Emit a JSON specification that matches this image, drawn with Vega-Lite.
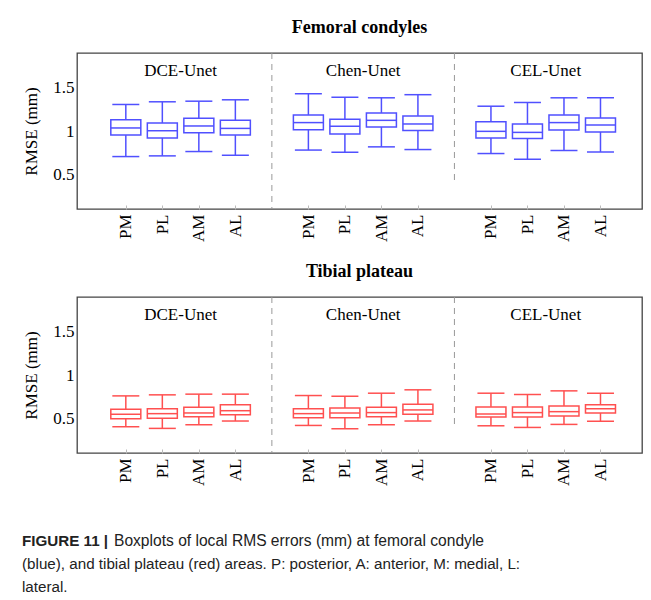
{
  "$schema": "https://vega.github.io/schema/vega-lite/v6.json",
  "background": "white",
  "padding": {"left": 22, "top": 17, "right": 5, "bottom": 5},
  "spacing": 18,
  "datasets": {
    "femoral": [
      {"method": "DCE-Unet", "region": "PM", "slot": 1, "min": 0.705, "q1": 0.953, "median": 1.035, "q3": 1.13, "max": 1.306},
      {"method": "DCE-Unet", "region": "PL", "slot": 2, "min": 0.713, "q1": 0.92, "median": 1.003, "q3": 1.093, "max": 1.337},
      {"method": "DCE-Unet", "region": "AM", "slot": 3, "min": 0.763, "q1": 0.98, "median": 1.058, "q3": 1.147, "max": 1.344},
      {"method": "DCE-Unet", "region": "AL", "slot": 4, "min": 0.72, "q1": 0.953, "median": 1.03, "q3": 1.123, "max": 1.36},
      {"method": "Chen-Unet", "region": "PM", "slot": 6, "min": 0.78, "q1": 1.015, "median": 1.097, "q3": 1.186, "max": 1.43},
      {"method": "Chen-Unet", "region": "PL", "slot": 7, "min": 0.756, "q1": 0.965, "median": 1.054, "q3": 1.135, "max": 1.39},
      {"method": "Chen-Unet", "region": "AM", "slot": 8, "min": 0.817, "q1": 1.047, "median": 1.123, "q3": 1.209, "max": 1.383},
      {"method": "Chen-Unet", "region": "AL", "slot": 9, "min": 0.786, "q1": 1.007, "median": 1.081, "q3": 1.174, "max": 1.419},
      {"method": "CEL-Unet", "region": "PM", "slot": 11, "min": 0.74, "q1": 0.919, "median": 0.996, "q3": 1.108, "max": 1.286},
      {"method": "CEL-Unet", "region": "PL", "slot": 12, "min": 0.674, "q1": 0.914, "median": 0.984, "q3": 1.081, "max": 1.329},
      {"method": "CEL-Unet", "region": "AM", "slot": 13, "min": 0.775, "q1": 1.012, "median": 1.097, "q3": 1.186, "max": 1.383},
      {"method": "CEL-Unet", "region": "AL", "slot": 14, "min": 0.759, "q1": 0.988, "median": 1.07, "q3": 1.151, "max": 1.383}
    ],
    "tibial": [
      {"method": "DCE-Unet", "region": "PM", "slot": 1, "min": 0.403, "q1": 0.495, "median": 0.547, "q3": 0.605, "max": 0.759},
      {"method": "DCE-Unet", "region": "PL", "slot": 2, "min": 0.384, "q1": 0.5, "median": 0.554, "q3": 0.612, "max": 0.771},
      {"method": "DCE-Unet", "region": "AM", "slot": 3, "min": 0.426, "q1": 0.519, "median": 0.562, "q3": 0.628, "max": 0.779},
      {"method": "DCE-Unet", "region": "AL", "slot": 4, "min": 0.469, "q1": 0.542, "median": 0.588, "q3": 0.658, "max": 0.779},
      {"method": "Chen-Unet", "region": "PM", "slot": 6, "min": 0.418, "q1": 0.507, "median": 0.554, "q3": 0.612, "max": 0.763},
      {"method": "Chen-Unet", "region": "PL", "slot": 7, "min": 0.379, "q1": 0.507, "median": 0.562, "q3": 0.62, "max": 0.756},
      {"method": "Chen-Unet", "region": "AM", "slot": 8, "min": 0.426, "q1": 0.519, "median": 0.566, "q3": 0.628, "max": 0.79},
      {"method": "Chen-Unet", "region": "AL", "slot": 9, "min": 0.469, "q1": 0.547, "median": 0.597, "q3": 0.663, "max": 0.829},
      {"method": "CEL-Unet", "region": "PM", "slot": 11, "min": 0.414, "q1": 0.515, "median": 0.55, "q3": 0.632, "max": 0.79},
      {"method": "CEL-Unet", "region": "PL", "slot": 12, "min": 0.395, "q1": 0.515, "median": 0.566, "q3": 0.632, "max": 0.775},
      {"method": "CEL-Unet", "region": "AM", "slot": 13, "min": 0.43, "q1": 0.527, "median": 0.577, "q3": 0.643, "max": 0.817},
      {"method": "CEL-Unet", "region": "AL", "slot": 14, "min": 0.465, "q1": 0.562, "median": 0.612, "q3": 0.658, "max": 0.79}
    ],
    "seps": [
      {"sep": 5, "top": 1.9, "bottom": 0.1},
      {"sep": 10, "top": 1.9, "bottom": 0.4}
    ],
    "methods": [
      {"method": "DCE-Unet", "center": 2.5},
      {"method": "Chen-Unet", "center": 7.5},
      {"method": "CEL-Unet", "center": 12.5}
    ],
    "captionBold": [
      {"line": 1, "text": "FIGURE 11 |"}
    ],
    "captionFirst": [
      {"line": 1, "text": "Boxplots of local RMS errors (mm) at femoral condyle"}
    ],
    "captionText": [
      {"line": 2, "text": "(blue), and tibial plateau (red) areas. P: posterior, A: anterior, M: medial, L:"},
      {"line": 3, "text": "lateral."}
    ]
  },
  "vconcat": [
    {
      "width": 565,
      "height": 156,
      "title": {"text": "Femoral condyles", "font": "Liberation Serif", "fontSize": 18, "fontWeight": "bold", "color": "black", "anchor": "middle", "offset": 16},
      "layer": [
        {
          "data": {"name": "seps"},
          "mark": {"type": "rule", "strokeDash": [6, 5], "color": "#999999", "strokeWidth": 1},
          "encoding": {
            "x": {"field": "sep", "type": "quantitative", "title": null, "scale": {"domain": [-0.2, 15], "nice": false, "zero": false},
              "axis": {"values": [1, 2, 3, 4, 6, 7, 8, 9, 11, 12, 13, 14], "labelExpr": "['PM','PL','AM','AL'][(datum.value - 1) % 5]", "labelAngle": -90, "grid": false, "domain": false, "tickSize": -4, "tickColor": "#bbbbbb", "labelPadding": 9, "labelFont": "Liberation Serif", "labelFontSize": 17, "labelColor": "black"}},
            "y": {"field": "top", "type": "quantitative", "title": "RMSE (mm)", "scale": {"domain": [0.1, 1.9], "nice": false, "zero": false},
              "axis": {"values": [0.5, 1, 1.5], "format": "~g", "titleFont": "Liberation Serif", "titleFontSize": 17, "titleFontWeight": "normal", "titleColor": "black", "grid": false, "domain": false, "ticks": false, "labelPadding": 3, "titlePadding": 12, "labelFont": "Liberation Serif", "labelFontSize": 17, "labelColor": "black"}},
            "y2": {"field": "bottom"}
          }
        },
        {
          "data": {"name": "femoral"},
          "mark": {"type": "rule", "color": "#5050ff", "strokeWidth": 1.5},
          "encoding": {
            "x": {"field": "slot", "type": "quantitative"},
            "y": {"field": "min", "type": "quantitative"},
            "y2": {"field": "max"}
          }
        },
        {
          "data": {"name": "femoral"},
          "mark": {"type": "bar", "size": 30, "fill": "white", "stroke": "#5050ff", "strokeWidth": 1.5},
          "encoding": {
            "x": {"field": "slot", "type": "quantitative"},
            "y": {"field": "q1", "type": "quantitative"},
            "y2": {"field": "q3"}
          }
        },
        {
          "data": {"name": "femoral"},
          "mark": {"type": "tick", "orient": "horizontal", "size": 30, "thickness": 1.5, "color": "#5050ff", "opacity": 1},
          "encoding": {
            "x": {"field": "slot", "type": "quantitative"},
            "y": {"field": "median", "type": "quantitative"}
          }
        },
        {
          "data": {"name": "femoral"},
          "mark": {"type": "tick", "orient": "horizontal", "size": 27, "thickness": 1.5, "color": "#5050ff", "opacity": 1},
          "encoding": {
            "x": {"field": "slot", "type": "quantitative"},
            "y": {"field": "min", "type": "quantitative"}
          }
        },
        {
          "data": {"name": "femoral"},
          "mark": {"type": "tick", "orient": "horizontal", "size": 27, "thickness": 1.5, "color": "#5050ff", "opacity": 1},
          "encoding": {
            "x": {"field": "slot", "type": "quantitative"},
            "y": {"field": "max", "type": "quantitative"}
          }
        },
        {
          "data": {"name": "methods"},
          "mark": {"type": "text", "font": "Liberation Serif", "fontSize": 17, "color": "black", "baseline": "middle"},
          "encoding": {
            "x": {"field": "center", "type": "quantitative"},
            "y": {"datum": 1.69, "type": "quantitative"},
            "text": {"field": "method"}
          }
        }
      ]
    },
    {
      "width": 565,
      "height": 156,
      "title": {"text": "Tibial plateau", "font": "Liberation Serif", "fontSize": 18, "fontWeight": "bold", "color": "black", "anchor": "middle", "offset": 16},
      "layer": [
        {
          "data": {"name": "seps"},
          "mark": {"type": "rule", "strokeDash": [6, 5], "color": "#999999", "strokeWidth": 1},
          "encoding": {
            "x": {"field": "sep", "type": "quantitative", "title": null, "scale": {"domain": [-0.2, 15], "nice": false, "zero": false},
              "axis": {"values": [1, 2, 3, 4, 6, 7, 8, 9, 11, 12, 13, 14], "labelExpr": "['PM','PL','AM','AL'][(datum.value - 1) % 5]", "labelAngle": -90, "grid": false, "domain": false, "tickSize": -4, "tickColor": "#bbbbbb", "labelPadding": 9, "labelFont": "Liberation Serif", "labelFontSize": 17, "labelColor": "black"}},
            "y": {"field": "top", "type": "quantitative", "title": "RMSE (mm)", "scale": {"domain": [0.1, 1.9], "nice": false, "zero": false},
              "axis": {"values": [0.5, 1, 1.5], "format": "~g", "titleFont": "Liberation Serif", "titleFontSize": 17, "titleFontWeight": "normal", "titleColor": "black", "grid": false, "domain": false, "ticks": false, "labelPadding": 3, "titlePadding": 12, "labelFont": "Liberation Serif", "labelFontSize": 17, "labelColor": "black"}},
            "y2": {"field": "bottom"}
          }
        },
        {
          "data": {"name": "tibial"},
          "mark": {"type": "rule", "color": "#ff5050", "strokeWidth": 1.5},
          "encoding": {
            "x": {"field": "slot", "type": "quantitative"},
            "y": {"field": "min", "type": "quantitative"},
            "y2": {"field": "max"}
          }
        },
        {
          "data": {"name": "tibial"},
          "mark": {"type": "bar", "size": 30, "fill": "white", "stroke": "#ff5050", "strokeWidth": 1.5},
          "encoding": {
            "x": {"field": "slot", "type": "quantitative"},
            "y": {"field": "q1", "type": "quantitative"},
            "y2": {"field": "q3"}
          }
        },
        {
          "data": {"name": "tibial"},
          "mark": {"type": "tick", "orient": "horizontal", "size": 30, "thickness": 1.5, "color": "#ff5050", "opacity": 1},
          "encoding": {
            "x": {"field": "slot", "type": "quantitative"},
            "y": {"field": "median", "type": "quantitative"}
          }
        },
        {
          "data": {"name": "tibial"},
          "mark": {"type": "tick", "orient": "horizontal", "size": 27, "thickness": 1.5, "color": "#ff5050", "opacity": 1},
          "encoding": {
            "x": {"field": "slot", "type": "quantitative"},
            "y": {"field": "min", "type": "quantitative"}
          }
        },
        {
          "data": {"name": "tibial"},
          "mark": {"type": "tick", "orient": "horizontal", "size": 27, "thickness": 1.5, "color": "#ff5050", "opacity": 1},
          "encoding": {
            "x": {"field": "slot", "type": "quantitative"},
            "y": {"field": "max", "type": "quantitative"}
          }
        },
        {
          "data": {"name": "methods"},
          "mark": {"type": "text", "font": "Liberation Serif", "fontSize": 17, "color": "black", "baseline": "middle"},
          "encoding": {
            "x": {"field": "center", "type": "quantitative"},
            "y": {"datum": 1.69, "type": "quantitative"},
            "text": {"field": "method"}
          }
        }
      ]
    },
    {
      "width": 565,
      "height": 90,
      "view": {"stroke": null},
      "layer": [
        {
          "data": {"name": "captionBold"},
          "mark": {"type": "text", "font": "Liberation Sans", "fontSize": 15.2, "fontWeight": "bold", "align": "left", "baseline": "middle", "color": "#222222", "dx": -55},
          "encoding": {
            "x": {"datum": 0, "type": "quantitative", "scale": {"domain": [0, 1]}, "axis": null},
            "y": {"field": "line", "type": "ordinal", "scale": {"type": "point", "domain": [1, 2, 3], "padding": 0.93, "align": 0.82}, "axis": null},
            "text": {"field": "text"}
          }
        },
        {
          "data": {"name": "captionFirst"},
          "mark": {"type": "text", "font": "Liberation Sans", "fontSize": 15.6, "align": "left", "baseline": "middle", "color": "#222222", "dx": 37},
          "encoding": {
            "x": {"datum": 0, "type": "quantitative"},
            "y": {"field": "line", "type": "ordinal"},
            "text": {"field": "text"}
          }
        },
        {
          "data": {"name": "captionText"},
          "mark": {"type": "text", "font": "Liberation Sans", "fontSize": 15.2, "align": "left", "baseline": "middle", "color": "#222222", "dx": -55},
          "encoding": {
            "x": {"datum": 0, "type": "quantitative"},
            "y": {"field": "line", "type": "ordinal"},
            "text": {"field": "text"}
          }
        }
      ]
    }
  ],
  "config": {
    "view": {"stroke": "#444444", "strokeWidth": 1.3},
    "font": "Liberation Serif"
  }
}
